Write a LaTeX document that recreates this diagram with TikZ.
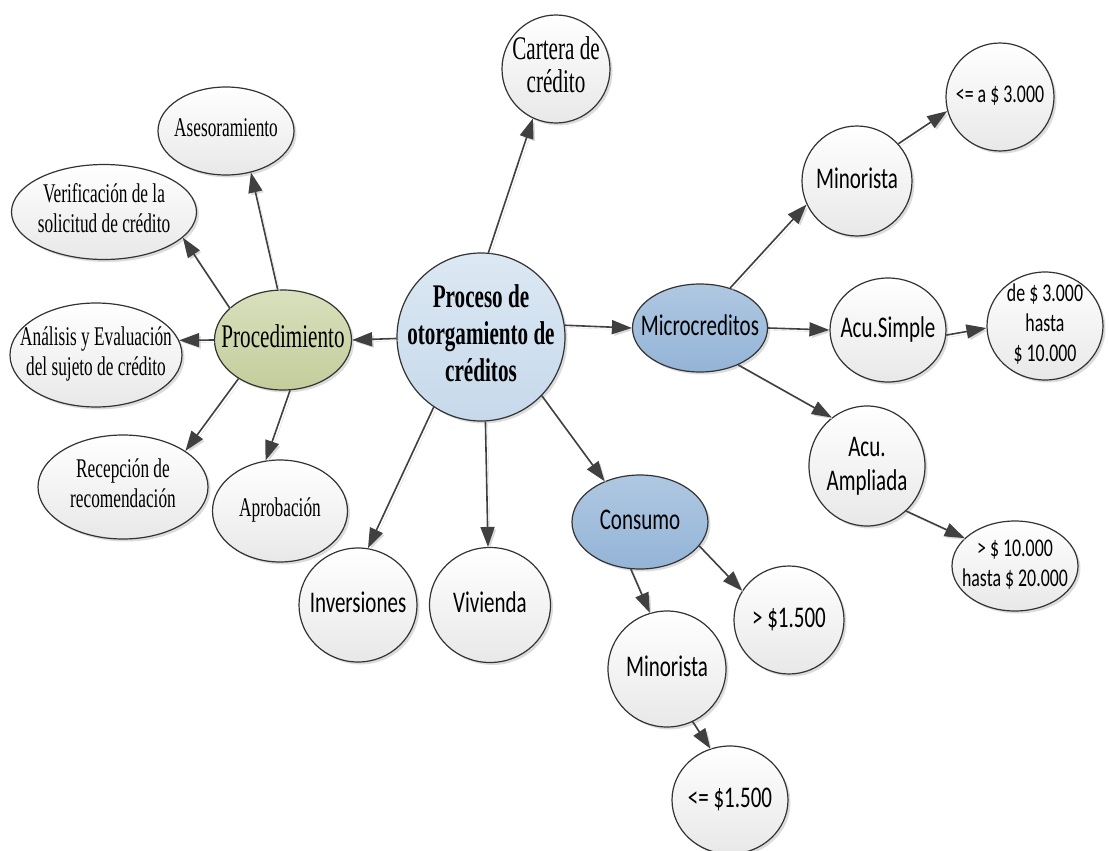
\documentclass[tikz,border=0pt]{standalone}
\usepackage{fontspec}
\setmainfont{Liberation Serif}[FakeStretch=0.64]
\newfontfamily\calib{Carlito}[FakeStretch=0.70]
\usetikzlibrary{shapes.geometric,shadows,arrows.meta}
\newcommand{\ctext}[1]{\smash{\makebox[0pt]{\raisebox{-0.45ex}{\begin{tabular}{@{}c@{}}#1\end{tabular}}}}}
\definecolor{edgec}{HTML}{404040}
\definecolor{bordc}{HTML}{333333}
\definecolor{ctrtop}{HTML}{DCE8F3}
\definecolor{ctrbot}{HTML}{C6D9EB}
\definecolor{proctop}{HTML}{D9E0BD}
\definecolor{procbot}{HTML}{C3CD9B}
\definecolor{bluetop}{HTML}{AFC8E2}
\definecolor{bluebot}{HTML}{94B4D7}
\begin{document}
\begin{tikzpicture}[x=1pt,y=-1pt,
  base/.style={shape=ellipse, draw=bordc, line width=1.2pt, inner sep=0pt,
    drop shadow={shadow xshift=2.5pt, shadow yshift=-2.5pt, fill=black!30, opacity=0.45}},
  wnode/.style={base, top color=white, bottom color=black!9},
  ctrnode/.style={base, top color=ctrtop, bottom color=ctrbot},
  procnode/.style={base, top color=proctop, bottom color=procbot},
  bnode/.style={base, top color=bluetop, bottom color=bluebot},
  sz/.style 2 args={minimum width=#1pt, minimum height=#2pt},
  tsmall/.style={font=\fontsize{27}{30}\selectfont},
  tbig/.style={font=\fontsize{33}{32}\selectfont},
  csmall/.style={font=\calib\fontsize{25.5}{30}\selectfont},
  cbig/.style={font=\calib\fontsize{30}{34}\selectfont},
  arr/.style={draw=edgec, line width=1.6pt, -{Triangle[length=20pt,width=14pt]},
    preaction={draw=black!15, transform canvas={xshift=2.2pt,yshift=-2.2pt}}}
]
\useasboundingbox (0,0) rectangle (1109,851);

% centre and main branches
\node[ctrnode, sz={168}{168}, font=\fontsize{33}{37}\selectfont\bfseries] (ctr) at (481,337) {\ctext{Proceso de\\otorgamiento de\\créditos}};
\node[procnode, sz={137}{100}, tbig] (proc) at (283,340) {\ctext{Procedimiento}};
\node[bnode, sz={135}{88}, cbig] (micro) at (700,328) {\ctext{Microcreditos}};
\node[bnode, sz={136}{94}, cbig] (cons) at (640,522) {\ctext{Consumo}};
\node[wnode, sz={108}{108}, tbig] (cart) at (556,69) {\ctext{Cartera de\\crédito}};
\node[wnode, sz={118}{114}, cbig] (inv) at (358,605) {\ctext{Inversiones}};
\node[wnode, sz={121}{115}, cbig] (viv) at (490,605) {\ctext{Vivienda}};

% procedimiento branch
\node[wnode, sz={136}{88}, tsmall] (ases) at (226,131) {\ctext{Asesoramiento}};
\node[wnode, sz={185}{95}, tsmall] (verif) at (104,212) {\ctext{Verificación de la\\solicitud de crédito}};
\node[wnode, sz={172}{104}, tsmall] (ana) at (96,355) {\ctext{Análisis y Evaluación\\del sujeto de crédito}};
\node[wnode, sz={170}{104}, tsmall] (recep) at (123,487) {\ctext{Recepción de\\recomendación}};
\node[wnode, sz={135}{102}, tsmall] (aprob) at (280,511) {\ctext{Aprobación}};

% microcreditos branch
\node[wnode, sz={110}{110}, cbig] (min1) at (857,181) {\ctext{Minorista}};
\node[wnode, sz={108}{108}, csmall] (le3) at (1000,97) {\ctext{<= a \$ 3.000}};
\node[wnode, sz={116}{104}, cbig] (acus) at (888,330) {\ctext{Acu.Simple}};
\node[wnode, sz={116}{108}, csmall] (de3) at (1045,326) {\ctext{de \$ 3.000\\hasta\\\$ 10.000}};
\node[wnode, sz={116}{120}, cbig] (acua) at (867,466) {\ctext{Acu.\\Ampliada}};
\node[wnode, sz={126}{90}, csmall] (gt10) at (1015,566) {\ctext{> \$ 10.000\\hasta \$ 20.000}};

% consumo branch
\node[wnode, sz={110}{108}, cbig] (gt15) at (789,620) {\ctext{> \$1.500}};
\node[wnode, sz={118}{116}, cbig] (min2) at (667,669) {\ctext{Minorista}};
\node[wnode, sz={116}{108}, cbig] (le15) at (730,800) {\ctext{<= \$1.500}};

% connectors
\draw[arr] (ctr.85) -- (cart.245);
\draw[arr] (ctr.181) -- (proc.0);
\draw[arr] (ctr.8) -- (micro.180);
\draw[arr] (ctr.316) -- (cons.131);
\draw[arr] (ctr.236) -- (inv.80);
\draw[arr] (ctr.273) -- (viv.92);

\draw[arr] (proc.96) -- (ases.301);
\draw[arr] (proc.149) -- (verif.342);
\draw[arr] (proc.180) -- (ana.10);
\draw[arr] (proc.221) -- (recep.30);
\draw[arr] (proc.278) -- (aprob.106);

\draw[arr] (micro.53) -- (min1.205);
\draw[arr] (min1.42) -- (le3.195);
\draw[arr] (micro.0) -- (acus.180);
\draw[arr] (acus.355) -- (de3.182);
\draw[arr] (micro.316) -- (acua.126);
\draw[arr] (acua.311) -- (gt10.151);

\draw[arr] (cons.338) -- (gt15.148);
\draw[arr] (cons.259) -- (min2.107);
\draw[arr] (min2.296) -- (le15.111);
\end{tikzpicture}
\end{document}
